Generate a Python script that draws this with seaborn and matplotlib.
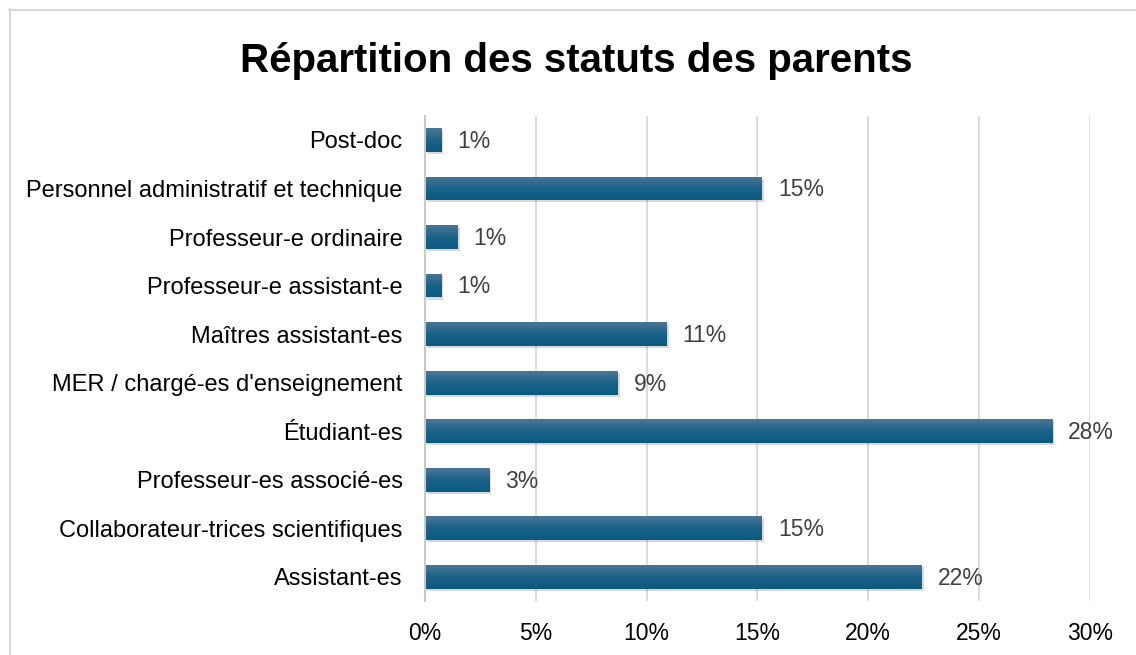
import numpy as np
import pandas as pd
import seaborn as sns
import matplotlib.pyplot as plt
import matplotlib.patheffects as pe
from matplotlib.colors import LinearSegmentedColormap
from matplotlib.ticker import FuncFormatter

## Data (in %)
statuts = [
    "Post-doc",
    "Personnel administratif et technique",
    "Professeur-e ordinaire",
    "Professeur-e assistant-e",
    "Maîtres assistant-es",
    "MER / chargé-es d'enseignement",
    "Étudiant-es",
    "Professeur-es associé-es",
    "Collaborateur-trices scientifiques",
    "Assistant-es",
]
pourcentages = [0.74, 15.2, 1.47, 0.74, 10.9, 8.7, 28.3, 2.9, 15.2, 22.4]
x_ticks = [0, 5, 10, 15, 20, 25, 30]

df = pd.DataFrame({"statut": statuts, "pct": pourcentages})

sns.set_theme(style="white")
plt.rcParams["font.family"] = ["Liberation Sans", "DejaVu Sans"]

fig = plt.figure(figsize=(11.36, 6.55), dpi=100)
ax = fig.add_axes([0.374, 0.0824, 0.5855, 0.741])

sns.barplot(data=df, x="pct", y="statut", orient="h", color="#0d5a80",
            width=0.49, saturation=1, linewidth=0, ax=ax)

## gradient + soft shadow on the bars
cmap = LinearSegmentedColormap.from_list("bar", ["#4b7696", "#1b6288", "#0b5a80"])
grad = np.linspace(0, 1, 64).reshape(-1, 1)
for p in ax.patches:
    p.set_linewidth(0)
    p.set_path_effects([pe.SimplePatchShadow(offset=(1.5, -1.5), alpha=0.15,
                                             shadow_rgbFace="#000000"), pe.Normal()])
    x0, y0 = p.get_x(), p.get_y()
    w, h = p.get_width(), p.get_height()
    im = ax.imshow(grad, cmap=cmap, aspect="auto", extent=[x0, x0 + w, y0 + h, y0],
                   origin="upper", zorder=p.get_zorder() + 0.1, interpolation="bicubic")
    im.set_clip_path(p)

ax.set_xlim(0, 30)
ax.set_ylim(len(statuts) - 0.5, -0.5)
ax.set_xticks(x_ticks)
ax.xaxis.set_major_formatter(FuncFormatter(lambda v, _: f"{v:.0f}%"))
ax.grid(axis="x", color="#d9d9d9", linewidth=1.3)
ax.set_axisbelow(True)
for s in ["top", "right", "bottom"]:
    ax.spines[s].set_visible(False)
ax.spines["left"].set_color("#c8c8c8")
ax.spines["left"].set_linewidth(1.5)
ax.tick_params(axis="x", length=0, pad=15, labelsize=16.5, labelcolor="#000000")
ax.tick_params(axis="y", length=0, pad=16, labelsize=17, labelcolor="#000000")
ax.set_xlabel("")
ax.set_ylabel("")

for i, v in enumerate(pourcentages):
    ax.annotate(f"{v:.0f}%", (v, i), xytext=(11.5, -1), textcoords="offset points",
                va="center", ha="left", fontsize=16.5, color="#404040")

fig.text(0.5075, 0.907, "Répartition des statuts des parents", ha="center", va="center",
         fontsize=29, fontweight="bold", color="#000000")

## chart border (light grey, cropped at right and bottom)
fig.add_artist(plt.Line2D([9 / 1136, 1.0], [1 - 9.5 / 655, 1 - 9.5 / 655],
                          transform=fig.transFigure, color="#d9d9d9", linewidth=1.5))
fig.add_artist(plt.Line2D([9.5 / 1136, 9.5 / 1136], [0, 1 - 9 / 655],
                          transform=fig.transFigure, color="#d9d9d9", linewidth=1.5))

fig.savefig("out.png", dpi=100, facecolor="white")
